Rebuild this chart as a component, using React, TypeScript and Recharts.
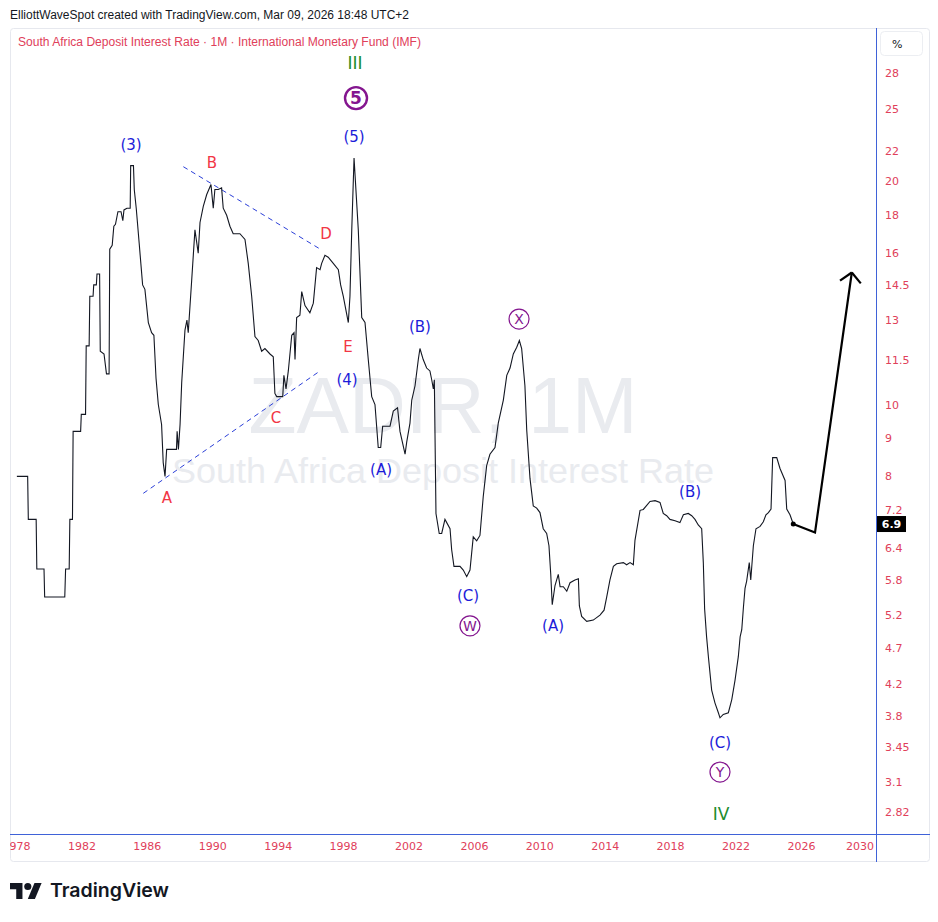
import React from 'react';
import { LineChart, Line, XAxis, YAxis, ReferenceLine, ReferenceDot } from 'recharts';

// South Africa deposit interest rate, monthly (decimal year, % value)
const depositRate: [number, number][] = [
  [1978.02, 8.0], [1978.68, 8.0], [1978.72, 7.0], [1979.2, 7.0], [1979.24, 6.0], [1979.68, 6.0],
  [1979.72, 5.5], [1980.95, 5.5], [1981.0, 6.0], [1981.22, 6.0], [1981.26, 7.0], [1981.42, 7.0],
  [1981.46, 9.2], [1981.92, 9.2], [1981.96, 9.7], [1982.22, 9.7], [1982.26, 12.0], [1982.44, 12.0],
  [1982.48, 14.0], [1982.68, 14.0], [1982.72, 14.5], [1982.88, 14.5], [1982.92, 15.0], [1983.08, 15.0],
  [1983.12, 11.8], [1983.35, 11.7], [1983.5, 11.0], [1983.66, 11.0], [1983.7, 16.2], [1983.85, 16.4],
  [1983.95, 17.4], [1984.05, 17.5], [1984.2, 18.2], [1984.39, 18.2], [1984.5, 17.7], [1984.57, 18.3],
  [1984.75, 18.4], [1984.95, 18.4], [1984.98, 21.0], [1985.15, 21.0], [1985.2, 19.5], [1985.32, 18.4],
  [1985.5, 16.5], [1985.71, 14.5], [1985.85, 14.3], [1986.06, 12.9], [1986.26, 12.5], [1986.4, 12.4],
  [1986.53, 10.85], [1986.67, 10.0], [1986.87, 9.4], [1986.97, 8.35], [1987.08, 8.0], [1987.18, 8.7],
  [1987.78, 8.7], [1987.82, 9.2], [1987.9, 8.7], [1988.0, 9.4], [1988.1, 10.7], [1988.3, 12.6],
  [1988.42, 13.0], [1988.5, 12.5], [1988.71, 14.7], [1988.91, 17.2], [1989.11, 16.0], [1989.22, 17.6],
  [1989.42, 18.5], [1989.63, 19.2], [1989.89, 19.8], [1990.03, 18.4], [1990.13, 19.5], [1990.34, 19.5],
  [1990.54, 19.6], [1990.64, 18.4], [1990.85, 18.0], [1991.05, 17.4], [1991.25, 17.0], [1991.66, 17.0],
  [1991.97, 16.7], [1992.17, 15.5], [1992.38, 14.0], [1992.58, 12.35], [1992.78, 12.2], [1992.99, 11.8],
  [1993.19, 11.9], [1993.5, 11.7], [1993.7, 11.6], [1993.8, 10.35], [1993.91, 10.25], [1994.28, 10.25],
  [1994.35, 10.95], [1994.48, 10.5], [1994.62, 11.1], [1994.83, 12.4], [1994.97, 12.5], [1995.03, 11.5],
  [1995.13, 13.1], [1995.33, 13.2], [1995.44, 14.2], [1995.64, 13.6], [1995.94, 13.3], [1996.15, 13.7],
  [1996.35, 15.3], [1996.56, 15.2], [1996.66, 15.5], [1996.86, 15.9], [1997.06, 15.8], [1997.37, 15.5],
  [1997.68, 15.2], [1997.82, 14.5], [1997.98, 14.0], [1998.29, 12.9], [1998.39, 14.0], [1998.5, 17.2],
  [1998.64, 21.5], [1998.9, 17.2], [1999.11, 13.1], [1999.31, 12.9], [1999.51, 11.5], [1999.72, 10.25],
  [1999.92, 10.0], [2000.12, 8.75], [2000.27, 8.75], [2000.39, 9.35], [2000.84, 9.35], [2001.04, 9.8],
  [2001.3, 9.9], [2001.45, 9.2], [2001.76, 8.57], [2001.86, 8.9], [2002.06, 9.44], [2002.17, 10.14],
  [2002.37, 10.6], [2002.57, 11.5], [2002.67, 11.9], [2002.87, 11.5], [2003.08, 11.2], [2003.28, 11.1],
  [2003.39, 10.8], [2003.49, 10.5], [2003.55, 10.8], [2003.65, 7.13], [2003.85, 6.7], [2004.0, 6.7],
  [2004.2, 7.0], [2004.51, 6.8], [2004.61, 6.37], [2004.75, 6.05], [2005.12, 6.05], [2005.32, 5.98],
  [2005.53, 5.86], [2005.73, 5.98], [2005.93, 6.63], [2006.14, 6.55], [2006.34, 6.66], [2006.54, 7.51],
  [2006.75, 8.27], [2006.95, 8.57], [2007.26, 8.75], [2007.46, 9.44], [2007.77, 10.14], [2007.98, 10.95],
  [2008.18, 11.2], [2008.38, 11.7], [2008.59, 11.95], [2008.75, 12.2], [2008.89, 11.9], [2009.09, 10.6],
  [2009.2, 9.24], [2009.4, 7.95], [2009.6, 7.3], [2009.81, 7.25], [2010.01, 7.15], [2010.21, 6.8],
  [2010.42, 6.7], [2010.56, 6.45], [2010.67, 5.9], [2010.76, 5.37], [2010.93, 5.7], [2011.13, 5.9],
  [2011.24, 5.68], [2011.44, 5.68], [2011.65, 5.6], [2011.85, 5.75], [2012.15, 5.8], [2012.36, 5.82],
  [2012.42, 5.35], [2012.56, 5.18], [2012.87, 5.1], [2013.27, 5.12], [2013.68, 5.2], [2013.93, 5.28],
  [2014.09, 5.5], [2014.29, 5.8], [2014.5, 6.05], [2014.7, 6.1], [2015.11, 6.12], [2015.31, 6.08],
  [2015.52, 6.12], [2015.72, 6.08], [2015.82, 6.56], [2016.13, 7.2], [2016.33, 7.22], [2016.74, 7.4],
  [2017.05, 7.42], [2017.35, 7.38], [2017.55, 7.13], [2017.76, 7.08], [2017.96, 7.0], [2018.27, 6.97],
  [2018.57, 6.93], [2018.78, 7.1], [2019.08, 7.13], [2019.29, 7.08], [2019.49, 7.0], [2019.69, 6.88],
  [2019.9, 6.8], [2020.0, 6.12], [2020.08, 5.3], [2020.2, 4.86], [2020.31, 4.57], [2020.51, 4.12],
  [2020.71, 3.96], [2020.92, 3.84], [2021.02, 3.78], [2021.22, 3.82], [2021.53, 3.84], [2021.74, 4.0],
  [2021.94, 4.25], [2022.14, 4.57], [2022.25, 4.86], [2022.35, 4.97], [2022.45, 5.32], [2022.55, 5.65],
  [2022.65, 5.78], [2022.81, 6.12], [2022.9, 5.8], [2023.06, 6.45], [2023.22, 6.8], [2023.47, 6.85],
  [2023.67, 6.95], [2023.83, 7.1], [2023.98, 7.15], [2024.14, 7.23], [2024.24, 8.48], [2024.49, 8.48],
  [2024.69, 8.2], [2025.0, 7.9], [2025.1, 7.23], [2025.3, 7.1], [2025.5, 6.9],
];

// Projected path (thick arrow)
const projection: [number, number][] = [[2025.5, 6.9], [2026.83, 6.72], [2029.08, 15.07]];
const arrowHead: [number, number][] = [[2028.36, 14.69], [2029.08, 15.07], [2029.63, 14.57]];

// Triangle trend lines (dashed)
const upperTrend: [number, number][] = [[1988.2, 20.93], [1996.66, 16.16]];
const lowerTrend: [number, number][] = [[1985.75, 7.59], [1996.56, 11.1]];

const lastValue = 6.9;

const yTicks = [28, 25, 22, 20, 18, 16, 14.5, 13, 11.5, 10, 9, 8, 7.2, 6.4, 5.8, 5.2, 4.7, 4.2, 3.8, 3.45, 3.1, 2.82];
const xTicks = [1978, 1982, 1986, 1990, 1994, 1998, 2002, 2006, 2010, 2014, 2018, 2022, 2026, 2030];
const xDomain = [1977.6, 2030.56];
const yDomain = [2.635, 32];

// Wave labels: [year, value, text, kind]
const waveLabels: [number, number, string, string][] = [
  [1998.7, 28.9, 'III', 'green'],
  [1998.76, 25.9, '5', 'circle5'],
  [1998.64, 22.95, '(5)', 'blue'],
  [1985.0, 22.39, '(3)', 'blue'],
  [1989.95, 21.17, 'B', 'red'],
  [1996.92, 17.03, 'D', 'red'],
  [1998.27, 11.99, 'E', 'red'],
  [1998.21, 10.82, '(4)', 'blue'],
  [1993.87, 9.59, 'C', 'red'],
  [1987.2, 7.5, 'A', 'red'],
  [2000.29, 8.18, '(A)', 'blue'],
  [2002.67, 12.72, '(B)', 'blue'],
  [2008.73, 13.04, 'X', 'circle'],
  [2005.61, 5.53, '(C)', 'blue'],
  [2005.73, 5.03, 'W', 'circle'],
  [2010.81, 5.04, '(A)', 'blue'],
  [2019.19, 7.62, '(B)', 'blue'],
  [2021.02, 3.495, '(C)', 'blue'],
  [2021.02, 3.194, 'Y', 'circle'],
  [2021.08, 2.803, 'IV', 'green'],
];

const BLUE = '#1c1cd9';
const RED = '#f23645';
const GREEN = '#1e8c2c';
const PURPLE = '#84168f';
const AXIS_RED = '#e0405a';
const AXIS_BLUE = '#3f62d8';
const FONT = 'DejaVu Sans';

const rateData = depositRate.map(([t, v]) => ({ t, v }));
const projData = projection.map(([t, v]) => ({ t, v }));

const WaveLabel = (props: any) => {
  const { cx, cy, text, kind } = props;
  if (cx == null || cy == null) return <g />;
  if (kind === 'circle5') {
    return (
      <g>
        <circle cx={cx} cy={cy} r={11} fill="none" stroke={PURPLE} strokeWidth={2.4} />
        <text x={cx} y={cy} dy="0.36em" textAnchor="middle" fontSize={17} fontWeight="bold" fill={PURPLE} fontFamily={FONT}>{text}</text>
      </g>
    );
  }
  if (kind === 'circle') {
    return (
      <g>
        <circle cx={cx} cy={cy} r={10} fill="none" stroke={PURPLE} strokeWidth={1.2} />
        <text x={cx} y={cy} dy="0.36em" textAnchor="middle" fontSize={14} fill={PURPLE} fontFamily={FONT}>{text}</text>
      </g>
    );
  }
  const color = kind === 'blue' ? BLUE : kind === 'red' ? RED : GREEN;
  const size = kind === 'green' ? 17 : 15;
  return (
    <text x={cx} y={cy} dy="0.36em" textAnchor="middle" fontSize={size} fill={color} fontFamily={FONT}>{text}</text>
  );
};

const YTick = (props: any) => {
  const { x, y, payload } = props;
  return (
    <text x={x} y={y} dy={4} fill={AXIS_RED} fontSize={11} fontFamily={FONT}>{payload.value}</text>
  );
};

const XTick = (props: any) => {
  const { x, y, payload } = props;
  const tx = Math.min(x, 860);
  return (
    <text x={tx} y={y} dy="0.71em" textAnchor="middle" fill={AXIS_RED} fontSize={11} fontFamily={FONT}>{payload.value}</text>
  );
};

const LastValueTag = (props: any) => {
  const { cx, cy } = props;
  if (cx == null || cy == null) return <g />;
  return (
    <g>
      <rect x={cx + 1} y={cy - 8} width={29} height={16} fill="#000" />
      <text x={cx + 15.5} y={cy} dy="0.36em" textAnchor="middle" fill="#fff" fontSize={11} fontWeight="bold" fontFamily={FONT}>{lastValue}</text>
    </g>
  );
};

const Background = () => (
  <svg width={938} height={922} style={{ position: 'absolute', left: 0, top: 0 }}>
    <rect x={0} y={0} width={938} height={922} fill="#ffffff" />
    <text x={10} y={15} dy="0.36em" fontSize={12} fill="#131722" fontFamily="Liberation Sans" textLength={399} lengthAdjust="spacingAndGlyphs">
      ElliottWaveSpot created with TradingView.com, Mar 09, 2026 18:48 UTC+2
    </text>
    <rect x={10.5} y={28.5} width={919} height={833} fill="none" stroke="#e6e8ee" strokeWidth={1} rx={3} />
    <text x={18} y={42} dy="0.36em" fontSize={12} fill={AXIS_RED} fontFamily="Liberation Sans" textLength={403} lengthAdjust="spacingAndGlyphs">
      South Africa Deposit Interest Rate · 1M · International Monetary Fund (IMF)
    </text>
    <text x={443} y={433} textAnchor="middle" fontSize={80} fill="#e9ebef" fontFamily="Liberation Sans" textLength={389} lengthAdjust="spacingAndGlyphs">ZADIR, 1M</text>
    <text x={443} y={483} textAnchor="middle" fontSize={35} fill="#e9ebef" fontFamily="Liberation Sans" textLength={542} lengthAdjust="spacingAndGlyphs">South Africa Deposit Interest Rate</text>
    <line x1={10} y1={834.5} x2={930} y2={834.5} stroke={AXIS_BLUE} strokeWidth={1} />
    <line x1={876.5} y1={28} x2={876.5} y2={862} stroke={AXIS_BLUE} strokeWidth={1} />
    <rect x={880.5} y={31.5} width={42} height={24} rx={4} fill="#fff" stroke="#eceef2" />
    <text x={892} y={44} dy="0.36em" fontSize={11} fill="#131722" fontFamily={FONT}>%</text>
    <g transform="translate(10,879.4) scale(0.89)" fill="#131722">
      <path d="M14 22H7V11H0V4h14v18z" />
      <path d="M28 22h-8l7.5-18h8L28 22z" />
      <circle cx={20} cy={8} r={4} />
    </g>
    <text x={50} y={897} fontSize={19} fontWeight={600} fill="#131722" fontFamily="Inter" textLength={119} lengthAdjust="spacingAndGlyphs">TradingView</text>
  </svg>
);

export default function App() {
  return (
    <div style={{ position: 'absolute', left: 0, top: 0, width: 938, height: 922, background: '#fff' }}>
      <Background />
      <div style={{ position: 'absolute', left: 0, top: 0 }}>
        <LineChart width={938} height={922} margin={{ top: 30, right: 0, bottom: 58, left: 10 }}>
          <XAxis
            dataKey="t"
            type="number"
            domain={xDomain}
            ticks={xTicks}
            allowDataOverflow
            axisLine={false}
            tickLine={false}
            tickSize={0}
            tickMargin={8}
            height={30}
            tick={<XTick />}
            interval={0}
          />
          <YAxis
            orientation="right"
            scale="log"
            domain={yDomain}
            ticks={yTicks}
            allowDataOverflow
            axisLine={false}
            tickLine={false}
            tickSize={0}
            tickMargin={9}
            width={62}
            tick={<YTick />}
            interval={0}
          />
          <ReferenceLine
            segment={upperTrend.map(([x, y]) => ({ x, y }))}
            stroke="#2b3fd8"
            strokeDasharray="5 4"
            strokeWidth={1}
            ifOverflow="visible"
          />
          <ReferenceLine
            segment={lowerTrend.map(([x, y]) => ({ x, y }))}
            stroke="#2b3fd8"
            strokeDasharray="5 4"
            strokeWidth={1}
            ifOverflow="visible"
          />
          <Line
            data={rateData}
            dataKey="v"
            type="linear"
            stroke="#131722"
            strokeWidth={1.1}
            dot={false}
            activeDot={false}
            isAnimationActive={false}
          />
          <Line
            data={projData}
            dataKey="v"
            type="linear"
            stroke="#000"
            strokeWidth={2.2}
            dot={false}
            activeDot={false}
            isAnimationActive={false}
          />
          <ReferenceLine
            segment={[{ x: arrowHead[0][0], y: arrowHead[0][1] }, { x: arrowHead[1][0], y: arrowHead[1][1] }]}
            stroke="#000"
            strokeWidth={2.2}
            ifOverflow="visible"
          />
          <ReferenceLine
            segment={[{ x: arrowHead[1][0], y: arrowHead[1][1] }, { x: arrowHead[2][0], y: arrowHead[2][1] }]}
            stroke="#000"
            strokeWidth={2.2}
            ifOverflow="visible"
          />
          <ReferenceDot x={depositRate[depositRate.length - 1][0]} y={lastValue} r={2.5} fill="#000" stroke="none" ifOverflow="visible" />
          {waveLabels.map(([t, v, text, kind], i) => (
            <ReferenceDot
              key={i}
              x={t}
              y={v}
              r={0}
              ifOverflow="visible"
              shape={(p: any) => <WaveLabel cx={p.cx} cy={p.cy} text={text} kind={kind} />}
            />
          ))}
          <ReferenceDot x={xDomain[1]} y={lastValue} r={0} ifOverflow="visible" shape={(p: any) => <LastValueTag cx={p.cx} cy={p.cy} />} />
        </LineChart>
      </div>
      <div style={{ position: 'absolute', left: 0, top: 836, width: 10, height: 24, background: '#fff' }} />
    </div>
  );
}
